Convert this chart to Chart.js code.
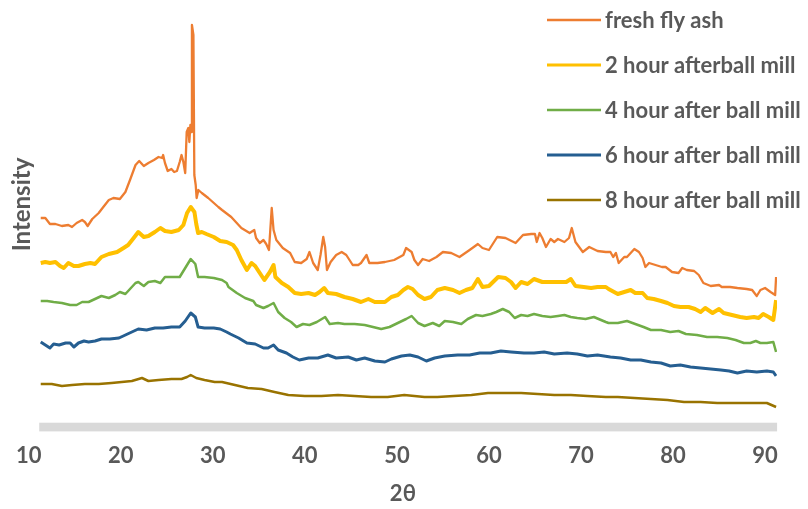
<!DOCTYPE html>
<html>
<head>
<meta charset="utf-8">
<style>
  html, body { margin: 0; padding: 0; background: #ffffff; }
  #wrap { width: 808px; height: 509px; }
</style>
<script src="https://cdn.jsdelivr.net/npm/chart.js@4"></script>
</head>
<body>
<div id="wrap"><canvas id="c" width="808" height="509"></canvas></div>
<script>
// ---- data (2θ in degrees, intensity in arbitrary units) ----
const seriesLabels = ["fresh fly ash", "2 hour afterball mill", "4 hour after ball mill", "6 hour after ball mill", "8 hour after ball mill"];
const xTicks = [10, 20, 30, 40, 50, 60, 70, 80, 90];

const freshX = [11.3,11.8,12.3,12.9,13.6,14.3,14.7,15.2,15.8,16.1,16.4,16.9,17.6,18.1,18.7,19.2,19.9,20.5,21.0,21.6,22.0,22.5,23.0,23.6,24.1,24.5,24.6,24.8,25.1,25.5,25.8,26.1,26.4,26.6,26.8,27.0,27.16,27.34,27.45,27.56,27.63,27.73,27.89,27.99,28.14,28.24,28.43,28.8,29.5,30.6,31.0,32.0,33.1,34.0,34.5,34.7,35.1,35.5,35.8,36.1,36.4,36.6,36.9,37.6,38.4,38.9,39.6,40.2,40.5,40.9,41.4,41.7,42.0,42.2,42.4,42.8,43.4,44.0,44.5,45.2,45.8,46.1,46.7,47.0,47.9,48.7,49.7,50.7,51.0,51.6,51.9,52.3,52.8,53.5,54.3,55.0,55.9,56.8,57.9,58.8,59.3,60.0,60.9,61.8,62.9,63.7,64.6,65.0,65.2,65.5,65.8,66.2,66.7,67.1,67.5,68.2,68.7,69.0,69.4,70.2,70.9,71.8,72.7,73.2,73.5,73.8,74.1,74.7,75.0,75.8,76.3,76.7,77.0,77.4,78.1,78.8,79.2,79.9,80.6,81.0,81.5,82.3,82.8,83.3,84.1,85.0,85.3,86.2,87.0,88.0,88.6,89.1,89.5,90.0,90.6,91.1,91.2];
const freshY = [209,209,203,203,201,202,200,204,207,205,201,208,214,220,227,229,228,235,247,262,266,261,264,267,270,269,272,264,256,258,255,256,265,272,265,254,295,299,285,302,295,402,392,252,242,229,237,234,229,220,217,210,199,194,197,189,184,187,183,177,219,197,187,179,174,165,164,168,175,164,157,172,190,180,157,165,172,175,172,162,162,164,172,164,164,165,167,172,179,175,167,162,168,166,170,175,174,170,177,183,179,177,190,189,184,192,193,193,185,194,189,180,188,185,188,185,189,199,185,175,180,176,175,175,170,174,164,170,170,178,175,169,160,164,162,160,160,155,154,159,157,156,152,144,141,142,140,140,139,138,137,131,137,139,135,132,150];

const twoHourX = [11.3,11.8,12.3,12.9,13.4,13.8,14.3,14.9,15.4,16.1,16.7,17.2,17.9,18.7,19.6,20.3,20.8,21.4,21.9,22.5,23.0,23.7,24.3,24.8,25.5,26.3,26.8,27.2,27.6,28.0,28.2,28.4,28.8,29.3,30.1,30.8,31.5,32.2,32.6,33.1,33.7,34.2,34.6,35.1,35.6,36.2,36.6,36.8,37.5,38.2,38.9,39.6,40.4,41.1,41.6,42.1,42.5,43.4,44.3,45.2,46.1,46.9,47.6,48.7,49.4,50.1,50.7,51.2,51.7,52.3,53.0,53.7,54.4,55.2,56.1,56.8,57.5,58.2,58.8,59.3,60.0,61.0,61.8,62.4,62.9,63.5,64.2,64.9,65.8,67.1,68.4,68.9,69.4,70.3,71.1,71.8,72.7,73.0,74.0,74.7,75.4,75.9,76.7,77.2,77.9,78.7,79.4,80.1,80.8,81.7,82.4,83.0,83.5,84.3,85.0,85.5,86.4,87.3,88.0,88.8,89.3,89.8,90.4,90.9,91.2];
const twoHourY = [164,165,164,165,161,159,164,161,161,163,164,163,170,173,175,179,182,189,195,190,191,195,199,196,195,197,202,214,220,215,203,194,195,193,190,186,185,182,177,167,157,164,161,154,147,155,162,150,144,140,134,133,134,132,135,139,134,133,130,128,125,128,125,125,130,132,137,140,138,132,128,130,137,139,137,134,137,139,148,140,141,150,149,145,139,145,143,148,145,145,145,148,141,140,139,140,140,138,133,135,137,134,134,129,128,126,124,121,120,120,118,115,119,114,118,114,112,110,109,110,109,113,110,107,127];

const fourHourX = [11.3,12.0,12.7,13.6,14.5,15.2,15.8,16.5,17.2,17.9,18.7,19.4,19.9,20.5,21.0,21.6,21.9,22.5,23.0,23.7,24.3,24.8,25.5,26.4,27.0,27.6,28.1,28.4,29.1,30.1,31.0,31.5,31.7,32.6,33.5,34.4,34.7,35.5,36.0,36.6,37.1,37.8,38.5,39.1,39.8,40.5,41.3,42.2,42.7,43.6,44.3,45.4,46.5,47.4,48.3,49.2,50.1,51.0,51.6,52.3,53.0,53.9,54.6,55.2,56.1,57.0,57.7,58.6,59.3,60.2,60.8,61.5,62.2,62.8,63.5,64.2,64.9,65.8,66.7,67.5,68.2,68.9,69.6,70.5,71.4,72.7,73.0,74.0,75.0,75.9,76.8,77.6,78.7,79.7,80.6,81.4,82.6,83.7,84.8,85.9,86.8,87.7,88.4,89.0,89.5,90.2,90.9,91.2];
const fourHourY = [126,126,125,124,122,122,125,125,128,131,129,132,135,133,138,144,145,141,145,146,144,150,150,150,159,168,163,150,150,149,147,144,140,134,129,126,122,119,121,124,115,109,105,100,103,102,105,110,103,104,103,103,102,100,98,100,104,108,111,104,101,104,101,106,105,103,108,112,111,113,115,118,115,109,112,111,113,111,110,111,112,110,109,108,110,105,104,104,106,103,100,97,97,95,96,93,92,90,90,89,87,84,84,86,84,84,85,75];

const sixHourX = [11.3,11.8,12.3,12.7,13.3,14.0,14.5,14.9,15.4,16.0,16.5,17.2,17.9,18.8,19.8,20.5,21.2,21.9,22.8,23.7,24.6,25.5,26.4,27.0,27.6,28.1,28.4,29.1,30.1,30.8,31.5,31.9,32.8,33.7,34.6,35.5,36.0,36.6,37.1,38.0,38.7,39.4,40.4,41.4,42.5,43.4,44.7,45.6,46.5,47.6,48.7,49.4,50.5,51.4,52.3,53.2,54.1,55.2,56.6,57.9,59.0,60.2,61.3,62.4,63.8,64.9,66.0,67.1,68.5,69.6,70.7,71.8,73.2,74.3,75.4,76.5,77.6,78.7,79.7,80.8,81.9,83.0,84.1,85.2,86.1,87.0,88.0,89.1,90.2,90.9,91.2];
const sixHourY = [85,82,79,83,82,84,84,80,84,86,85,86,88,88,89,92,95,98,97,99,99,100,100,106,114,110,100,99,99,98,95,93,89,84,83,79,79,82,77,74,70,67,69,69,72,69,70,67,69,66,65,68,71,72,70,66,69,71,72,72,74,74,76,75,74,74,75,73,74,73,71,72,70,69,67,67,65,64,61,62,60,59,58,57,56,54,56,55,56,55,51];

const eightHourX = [11.3,12.5,13.6,14.7,16.1,17.6,19.0,20.1,21.2,22.3,23.0,24.1,25.5,26.6,27.2,27.6,28.2,29.1,30.2,31.0,32.4,33.8,35.3,36.7,38.2,40.0,41.8,43.6,45.4,47.2,49.0,50.8,53.0,54.4,56.2,58.1,59.9,61.7,63.5,65.3,67.1,68.9,70.7,72.7,74.0,75.8,77.6,79.4,81.2,83.0,84.8,86.6,88.4,90.2,91.2];
const eightHourY = [43,43,41,42,43,43,44,45,46,49,46,47,48,48,50,52,49,47,45,45,42,39,38,35,32,31,31,32,31,30,30,32,30,30,31,32,34,34,34,33,32,32,31,30,30,29,28,27,25,25,24,24,24,24,20];

const seriesX = [freshX, twoHourX, fourHourX, sixHourX, eightHourX];
const seriesY = [freshY, twoHourY, fourHourY, sixHourY, eightHourY];

// ---- styles ----
const colors = ["#ED7D31", "#FFC000", "#70AD47", "#255E91", "#997300"];
const widths = [2.3, 4, 2.5, 3, 2.5];
const textColor = "#595959";
const FONT = "Lato, 'Open Sans', sans-serif";

const datasets = seriesLabels.map((label, i) => ({
  label: label,
  data: seriesX[i].map((x, j) => ({ x: x, y: seriesY[i][j] })),
  borderColor: colors[i],
  backgroundColor: colors[i],
  borderWidth: widths[i],
  pointRadius: 0,
  tension: 0,
  borderJoinStyle: 'round',
  fill: false
}));

// gray axis band under the data range
const bandPlugin = {
  id: 'band',
  beforeDatasetsDraw(chart) {
    const xs = chart.scales.x;
    const ca = chart.chartArea;
    const allX = [].concat(...seriesX);
    const x0 = xs.getPixelForValue(Math.min(...allX)) - 1.5;
    const x1 = xs.getPixelForValue(Math.max(...allX)) + 1;
    const ctx = chart.ctx;
    ctx.save();
    ctx.fillStyle = '#d9d9d9';
    ctx.fillRect(x0, ca.bottom - 4.3, x1 - x0, 8.7);
    ctx.restore();
  }
};

// legend drawn at the upper right inside the plot
const legendPlugin = {
  id: 'sideLegend',
  afterDraw(chart) {
    const ctx = chart.ctx;
    ctx.save();
    ctx.font = "bold 22px " + FONT;
    ctx.textBaseline = 'middle';
    ctx.textAlign = 'left';
    chart.data.datasets.forEach((ds, i) => {
      const y = 20 + i * 45;
      ctx.strokeStyle = ds.borderColor;
      ctx.lineWidth = Math.min(ds.borderWidth, 3);
      ctx.beginPath();
      ctx.moveTo(547, y);
      ctx.lineTo(601, y);
      ctx.stroke();
      ctx.fillStyle = textColor;
      ctx.fillText(ds.label, 605, y + 1);
    });
    ctx.restore();
  }
};

new Chart(document.getElementById('c'), {
  type: 'line',
  data: { datasets: datasets },
  plugins: [bandPlugin, legendPlugin],
  options: {
    responsive: false,
    animation: false,
    parsing: true,
    layout: { padding: { top: 17, right: 31, bottom: 0, left: 0 } },
    plugins: { legend: { display: false }, tooltip: { enabled: false } },
    scales: {
      x: {
        type: 'linear',
        min: 10,
        max: 91.3,
        afterFit(s) { s.height = 82; },
        afterBuildTicks(s) { s.ticks = xTicks.map(v => ({ value: v })); },
        grid: { display: false, drawTicks: false },
        border: { display: false },
        ticks: {
          stepSize: 10,
          includeBounds: false,
          maxRotation: 0,
          padding: 16,
          color: textColor,
          font: { family: FONT, size: 22, weight: 'bold', lineHeight: 1.2 }
        },
        title: {
          display: true,
          text: '2θ',
          color: textColor,
          padding: { top: 0, bottom: 1.5 },
          font: { family: FONT, size: 22, weight: 'bold', lineHeight: 1.2 }
        }
      },
      y: {
        type: 'linear',
        min: 0,
        max: 410,
        afterFit(s) { s.width = 26.7; },
        grid: { display: false, drawTicks: false },
        border: { display: false },
        ticks: { display: false },
        title: {
          display: true,
          text: '      Intensity',
          color: textColor,
          padding: { top: 6, bottom: 0 },
          font: { family: FONT, size: 24, weight: 'bold', lineHeight: 1.2 }
        }
      }
    }
  }
});
</script>
</body>
</html>
